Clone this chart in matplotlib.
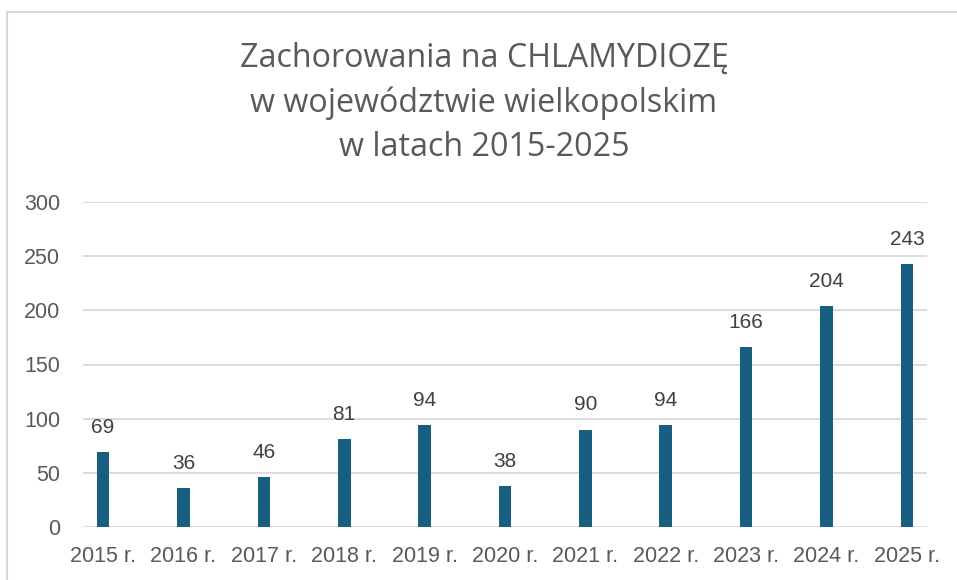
import matplotlib
matplotlib.use("Agg")
import matplotlib.pyplot as plt
from matplotlib.lines import Line2D

years = ["2015 r.", "2016 r.", "2017 r.", "2018 r.", "2019 r.", "2020 r.",
         "2021 r.", "2022 r.", "2023 r.", "2024 r.", "2025 r."]
cases = [69, 36, 46, 81, 94, 38, 90, 94, 166, 204, 243]
yticks = [0, 50, 100, 150, 200, 250, 300]
title_lines = ["Zachorowania na CHLAMYDIOZĘ", "w województwie wielkopolskim", "w latach 2015-2025"]

W, H = 957, 580
fig = plt.figure(figsize=(W / 100, H / 100), dpi=100)
fig.patch.set_facecolor("white")

# chart border (cropped at right/bottom)
fig.add_artist(Line2D([6.5 / W, 1.0], [1 - 11.5 / H, 1 - 11.5 / H], color="#D9D9D9", lw=1.5))
fig.add_artist(Line2D([6.5 / W, 6.5 / W], [0, 1 - 11.5 / H], color="#D9D9D9", lw=1.5))

ax = fig.add_axes([83 / W, (H - 527) / H, (927 - 83) / W, (527 - 202) / H])
x = list(range(len(years)))
ax.bar(x, cases, width=0.158, color="#175E80", zorder=3)
ax.set_xlim(-0.25, len(years) - 0.75)
ax.set_ylim(0, 300)
ax.set_yticks(yticks)
ax.set_xticks(x)
ax.set_xticklabels(years)
for s in ax.spines.values():
    s.set_visible(False)
ax.grid(axis="y", color="#D9D9D9", lw=1.3, zorder=0)
ax.set_axisbelow(True)
ax.tick_params(axis="both", length=0, labelsize=15.5, labelcolor="#595959")
ax.tick_params(axis="y", pad=16.5)
ax.tick_params(axis="x", pad=13.5)
for lab in ax.get_xticklabels() + ax.get_yticklabels():
    lab.set_family(["Liberation Sans", "DejaVu Sans"])

for xi, v in zip(x, cases):
    ax.annotate(str(v), (xi, v), xytext=(0, 13.7), textcoords="offset points",
                ha="center", va="baseline", fontsize=15, color="#404040",
                family=["Liberation Sans", "DejaVu Sans"])

fig.text(484 / W, 1 - 103 / H, "\n".join(title_lines), ha="center", va="center",
         fontsize=23.2, color="#595959", linespacing=1.44,
         family=["Open Sans", "DejaVu Sans"])

fig.savefig("out.png", dpi=100)
